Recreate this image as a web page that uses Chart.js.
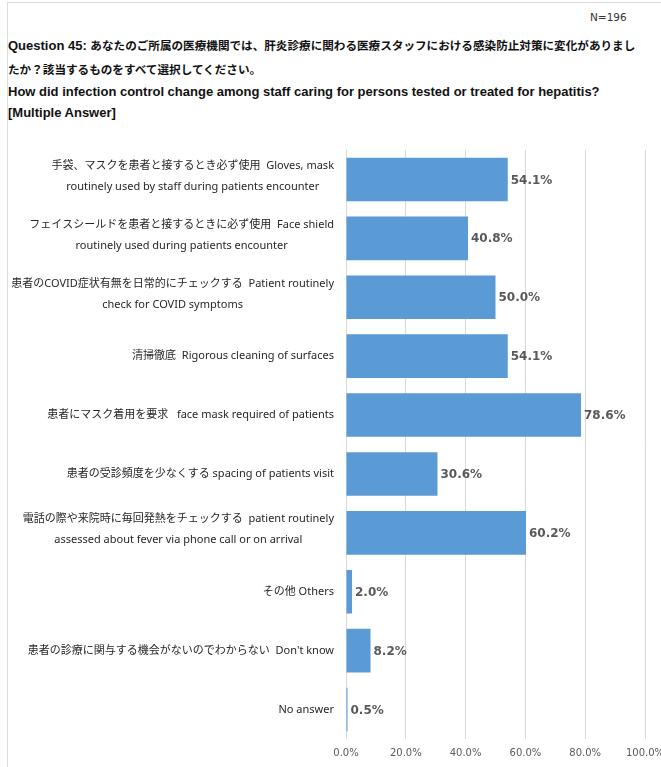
<!DOCTYPE html>
<html>
<head>
<meta charset="utf-8">
<script src="https://cdn.jsdelivr.net/npm/chart.js@4/dist/chart.umd.min.js"></script>
<style>
  html, body { margin: 0; padding: 0; background: #fff; overflow: hidden; width: 661px; height: 767px; }
  #frame-top { position: absolute; left: 7px; top: 2px; width: 700px; height: 1px; background: #dcdcdc; }
  #frame-left { position: absolute; left: 7px; top: 2px; width: 1px; height: 800px; background: #dcdcdc; }
  .t { position: absolute; left: 8px; font-family: "Liberation Sans", "Noto Sans CJK JP", sans-serif; font-weight: bold; font-size: 13px; color: #111; white-space: nowrap; line-height: 16px; }
  .t .ja { font-size: 11.6px; }
  #n { position: absolute; left: 590px; top: 9px; font-family: "DejaVu Sans", sans-serif; font-size: 10.5px; color: #333; line-height: 16px; }
  #wrap { position: absolute; left: 0; top: 0; width: 680px; height: 767px; }
</style>
</head>
<body>
<div id="frame-top"></div>
<div id="frame-left"></div>
<div id="n">N=196</div>
<div class="t" style="top:38px">Question 45: <span class="ja">あなたのご所属の医療機関では、肝炎診療に関わる医療スタッフにおける感染防止対策に変化がありまし</span></div>
<div class="t" style="top:62px"><span class="ja">たか？該当するものをすべて選択してください。</span></div>
<div class="t" style="top:84px">How did infection control change among staff caring for persons tested or treated for hepatitis?</div>
<div class="t" style="top:105px">[Multiple Answer]</div>
<div id="wrap"><canvas id="c" width="680" height="767"></canvas></div>
<script>
// Answer options (each entry is a list of wrapped lines)
const categories = [
  ["手袋、マスクを患者と接するとき必ず使用  Gloves, mask", "routinely used by staff during patients encounter"],
  ["フェイスシールドを患者と接するときに必ず使用  Face shield", "routinely used during patients encounter"],
  ["患者のCOVID症状有無を日常的にチェックする  Patient routinely", "check for COVID symptoms"],
  ["清掃徹底  Rigorous cleaning of surfaces"],
  ["患者にマスク着用を要求   face mask required of patients"],
  ["患者の受診頻度を少なくする spacing of patients visit"],
  ["電話の際や来院時に毎回発熱をチェックする  patient routinely", "assessed about fever via phone call or on arrival"],
  ["その他 Others"],
  ["患者の診療に関与する機会がないのでわからない  Don't know"],
  ["No answer"]
];
// Share of respondents (%)
const percentValues = [54.1, 40.8, 50.0, 54.1, 78.6, 30.6, 60.2, 2.0, 8.2, 0.5];
// Axis ticks (%)
const tickValues = [0, 20, 40, 60, 80, 100];

const labelFont = '11px "Noto Sans", "Noto Sans CJK JP", sans-serif';
const valueFont = 'bold 12px "DejaVu Sans", sans-serif';

// Draws the wrapped category text to the left of the plot, lines centred within a right-aligned block
const categoryLabels = {
  id: 'categoryLabels',
  afterDraw(chart) {
    const ctx = chart.ctx;
    const y = chart.scales.y;
    const right = chart.chartArea.left - 12;
    const lh = 21;
    ctx.save();
    ctx.font = labelFont;
    ctx.fillStyle = '#262626';
    ctx.textBaseline = 'middle';
    ctx.textAlign = 'center';
    categories.forEach((lines, i) => {
      const cy = y.getPixelForValue(i);
      const w = Math.max(...lines.map(l => ctx.measureText(l).width));
      const cx = right - w / 2;
      const top = cy - (lines.length - 1) * lh / 2 - (lines.length > 1 ? 3 : 0);
      lines.forEach((l, k) => ctx.fillText(l, cx, top + k * lh));
    });
    ctx.restore();
  }
};

// Value text at the end of each bar
const valueLabels = {
  id: 'valueLabels',
  afterDatasetsDraw(chart) {
    const ctx = chart.ctx;
    const meta = chart.getDatasetMeta(0);
    ctx.save();
    ctx.font = valueFont;
    ctx.fillStyle = '#595959';
    ctx.textAlign = 'left';
    ctx.textBaseline = 'middle';
    meta.data.forEach((bar, i) => {
      ctx.fillText(percentValues[i].toFixed(1) + '%', bar.x + 3, bar.y + 1);
    });
    ctx.restore();
  }
};

new Chart(document.getElementById('c'), {
  type: 'bar',
  data: {
    labels: categories.map((_, i) => i),
    datasets: [{
      data: percentValues,
      backgroundColor: '#5B9BD5',
      borderWidth: 0,
      categoryPercentage: 1.0,
      barPercentage: 0.74
    }]
  },
  options: {
    indexAxis: 'y',
    responsive: false,
    animation: false,
    layout: { padding: { top: 150, right: 35, bottom: 0, left: 0 } },
    plugins: { legend: { display: false }, tooltip: { enabled: false } },
    scales: {
      x: {
        min: 0, max: 100,
        afterBuildTicks(scale) { scale.ticks = tickValues.map(v => ({ value: v })); },
        grid: { color: '#D9D9D9', drawTicks: false, lineWidth: 1 },
        border: { display: false },
        ticks: {
          padding: 8,
          color: '#595959',
          font: { family: '"DejaVu Sans", sans-serif', size: 10 },
          callback: v => Number(v).toFixed(1) + '%',
          maxRotation: 0
        }
      },
      y: {
        type: 'category',
        grid: { display: false },
        border: { display: false },
        ticks: { display: false },
        afterFit(scale) { scale.width = 346; }
      }
    }
  },
  plugins: [categoryLabels, valueLabels]
});
</script>
</body>
</html>
